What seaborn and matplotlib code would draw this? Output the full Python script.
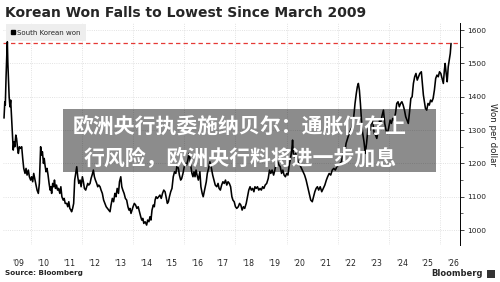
import pandas as pd
import numpy as np
import seaborn as sns
import matplotlib.pyplot as plt
from matplotlib.lines import Line2D
from matplotlib.patches import Rectangle

# USD/KRW (decimal year, won per dollar)
years = [
    2008.96, 2008.99, 2009.01, 2009.04, 2009.07, 2009.09, 2009.11, 2009.14, 2009.16, 2009.19,
    2009.22, 2009.26, 2009.29, 2009.32, 2009.35, 2009.38, 2009.42, 2009.45, 2009.49, 2009.52,
    2009.56, 2009.60, 2009.65, 2009.69, 2009.73, 2009.78, 2009.82, 2009.86, 2009.91, 2009.95,
    2010.00, 2010.04, 2010.08, 2010.12, 2010.17, 2010.21, 2010.25, 2010.30, 2010.34, 2010.37,
    2010.39, 2010.42, 2010.46, 2010.50, 2010.53, 2010.56, 2010.60, 2010.64, 2010.68, 2010.72,
    2010.76, 2010.79, 2010.82, 2010.86, 2010.90, 2010.93, 2010.97, 2011.01, 2011.05, 2011.09,
    2011.14, 2011.18, 2011.22, 2011.27, 2011.31, 2011.35, 2011.41, 2011.45, 2011.49, 2011.53,
    2011.57, 2011.60, 2011.64, 2011.68, 2011.72, 2011.76, 2011.80, 2011.84, 2011.88, 2011.93,
    2011.97, 2012.02, 2012.06, 2012.10, 2012.15, 2012.19, 2012.23, 2012.27, 2012.32, 2012.36,
    2012.40, 2012.45, 2012.49, 2012.53, 2012.58, 2012.62, 2012.66, 2012.71, 2012.75, 2012.80,
    2012.85, 2012.90, 2012.95, 2013.00, 2013.05, 2013.10, 2013.14, 2013.19, 2013.24, 2013.29,
    2013.33, 2013.38, 2013.43, 2013.47, 2013.52, 2013.56, 2013.60, 2013.65, 2013.70, 2013.75,
    2013.80, 2013.84, 2013.88, 2013.92, 2013.96, 2014.00, 2014.05, 2014.10, 2014.15, 2014.20,
    2014.25, 2014.30, 2014.34, 2014.38, 2014.42, 2014.47, 2014.53, 2014.57, 2014.62, 2014.66,
    2014.70, 2014.74, 2014.79, 2014.83, 2014.86, 2014.90, 2014.95, 2015.00, 2015.05, 2015.10,
    2015.15, 2015.20, 2015.25, 2015.30, 2015.34, 2015.38, 2015.42, 2015.47, 2015.52, 2015.57,
    2015.62, 2015.67, 2015.72, 2015.77, 2015.81, 2015.86, 2015.90, 2015.95, 2016.00, 2016.05,
    2016.09, 2016.14, 2016.18, 2016.22, 2016.26, 2016.30, 2016.34, 2016.38, 2016.42, 2016.46,
    2016.50, 2016.55, 2016.61, 2016.65, 2016.70, 2016.74, 2016.78, 2016.82, 2016.86, 2016.90,
    2016.95, 2017.00, 2017.05, 2017.11, 2017.16, 2017.21, 2017.27, 2017.32, 2017.36, 2017.41,
    2017.46, 2017.51, 2017.56, 2017.61, 2017.66, 2017.71, 2017.76, 2017.81, 2017.86, 2017.90,
    2017.95, 2018.00, 2018.05, 2018.11, 2018.16, 2018.21, 2018.26, 2018.31, 2018.36, 2018.42,
    2018.47, 2018.52, 2018.57, 2018.62, 2018.67, 2018.72, 2018.76, 2018.81, 2018.86, 2018.91,
    2018.96, 2019.01, 2019.06, 2019.11, 2019.16, 2019.22, 2019.28, 2019.33, 2019.38, 2019.43,
    2019.49, 2019.54, 2019.60, 2019.65, 2019.70, 2019.75, 2019.80, 2019.85, 2019.90, 2019.95,
    2020.00, 2020.05, 2020.10, 2020.15, 2020.20, 2020.23, 2020.26, 2020.30, 2020.35, 2020.40,
    2020.46, 2020.52, 2020.58, 2020.64, 2020.70, 2020.76, 2020.82, 2020.88, 2020.94, 2021.00,
    2021.05, 2021.10, 2021.15, 2021.20, 2021.25, 2021.31, 2021.37, 2021.43, 2021.49, 2021.55,
    2021.60, 2021.66, 2021.72, 2021.78, 2021.84, 2021.90, 2021.96, 2022.02, 2022.08, 2022.14,
    2022.20, 2022.26, 2022.32, 2022.38, 2022.44, 2022.50, 2022.56, 2022.62, 2022.67, 2022.72,
    2022.76, 2022.80, 2022.84, 2022.88, 2022.93, 2022.97, 2023.02, 2023.07, 2023.12, 2023.17,
    2023.22, 2023.27, 2023.32, 2023.37, 2023.42, 2023.47, 2023.52, 2023.58, 2023.63, 2023.68,
    2023.73, 2023.78, 2023.83, 2023.88, 2023.93, 2023.98, 2024.04, 2024.09, 2024.14, 2024.19,
    2024.25, 2024.30, 2024.35, 2024.40, 2024.45, 2024.50, 2024.55, 2024.60, 2024.65, 2024.70,
    2024.75, 2024.80, 2024.85, 2024.90, 2024.95, 2025.00, 2025.05, 2025.10, 2025.15, 2025.20,
    2025.26, 2025.30, 2025.34, 2025.38, 2025.42, 2025.47, 2025.52, 2025.57, 2025.62, 2025.67,
    2025.72, 2025.77, 2025.82, 2025.87, 2025.92, 2025.97, 2026.02, 2026.07, 2026.12, 2026.16,
    2026.19, 2026.23, 2026.27, 2026.31, 2026.35, 2026.39, 2026.42,
]
won = [
    1336, 1385, 1375, 1460, 1530, 1565, 1500, 1440, 1400, 1370,
    1390, 1330, 1280, 1240, 1265, 1250, 1285, 1275, 1245, 1230,
    1250, 1245, 1250, 1215, 1185, 1170, 1185, 1165, 1180, 1160,
    1150, 1160, 1145, 1170, 1150, 1135, 1120, 1110, 1140, 1210,
    1250, 1225, 1235, 1200, 1215, 1195, 1175, 1185, 1165, 1140,
    1120, 1130, 1110, 1140, 1130, 1150, 1125, 1135, 1120, 1125,
    1110, 1130, 1100, 1090, 1095, 1080, 1080, 1070, 1085, 1065,
    1060, 1055, 1065, 1080, 1150, 1170, 1190, 1160, 1140, 1150,
    1130, 1160, 1145, 1125, 1120, 1130, 1140, 1135, 1140, 1155,
    1165, 1180, 1160, 1150, 1140, 1130, 1135, 1130, 1120, 1110,
    1090, 1080, 1070, 1065, 1060, 1055, 1075, 1095, 1085, 1110,
    1100, 1125, 1110, 1145, 1160, 1130, 1120, 1110, 1095, 1090,
    1070, 1060, 1065, 1050, 1060, 1070, 1080, 1075, 1065, 1070,
    1055, 1040, 1030, 1035, 1020, 1025, 1015, 1030, 1025, 1040,
    1030, 1060, 1075, 1070, 1090, 1100, 1095, 1100, 1105, 1095,
    1110, 1120, 1115, 1095, 1080, 1085, 1100, 1115, 1125, 1160,
    1175, 1170, 1195, 1185, 1165, 1150, 1155, 1170, 1190, 1200,
    1195, 1210, 1230, 1215, 1190, 1170, 1160, 1175, 1160, 1180,
    1165, 1150, 1175, 1130, 1110, 1100, 1115, 1130, 1145, 1170,
    1185, 1205, 1190, 1165, 1150, 1135, 1130, 1140, 1125, 1120,
    1135, 1145, 1140, 1150, 1135, 1145, 1140, 1130, 1100, 1090,
    1085, 1070, 1065, 1070, 1080, 1075, 1060, 1070, 1065, 1080,
    1100, 1120, 1130, 1120, 1125, 1115, 1130, 1125, 1130, 1120,
    1125, 1120, 1130, 1125, 1135, 1140, 1155, 1180, 1170, 1180,
    1165, 1180, 1210, 1205, 1195, 1190, 1170, 1180, 1165, 1160,
    1170, 1165, 1195, 1215, 1240, 1270, 1230, 1220, 1230, 1220,
    1200, 1195, 1185, 1175, 1165, 1150, 1130, 1110, 1090, 1085,
    1100, 1115, 1125, 1130, 1120, 1130, 1115, 1125, 1135, 1150,
    1160, 1170, 1165, 1180, 1185, 1180, 1190, 1195, 1200, 1205,
    1230, 1225, 1260, 1275, 1290, 1300, 1310, 1340, 1380, 1410,
    1430, 1440, 1420, 1380, 1320, 1290, 1265, 1230, 1260, 1300,
    1320, 1300, 1335, 1320, 1290, 1285, 1275, 1300, 1330, 1325,
    1345, 1360, 1320, 1300, 1290, 1305, 1330, 1320, 1335, 1330,
    1350, 1380, 1385, 1370, 1380, 1385, 1375, 1360, 1340, 1330,
    1320, 1355, 1395, 1400, 1440, 1460, 1470, 1450, 1460, 1470,
    1475, 1440, 1405, 1385, 1365, 1360, 1380, 1375, 1390, 1385,
    1395, 1420, 1455, 1465, 1460, 1475, 1470, 1455, 1440, 1480,
    1500, 1470, 1445, 1490, 1510, 1530, 1560,
]
high_2009 = 1560

year_ticks = list(range(2009, 2027))
year_labels = ["'%02d" % (y % 100) for y in year_ticks]
won_ticks = [1000, 1100, 1200, 1300, 1400, 1500, 1600]

title = 'Korean Won Falls to Lowest Since March 2009'
overlay_lines = ['欧洲央行执委施纳贝尔：通胀仍存上', '行风险，欧洲央行料将进一步加息']

df = pd.DataFrame({'year': years, 'won': won})

sns.set_style('white')
plt.rcParams['font.family'] = ['DejaVu Sans', 'Noto Sans CJK SC']

fig = plt.figure(figsize=(5, 2.82), dpi=100)
ax = fig.add_axes([0.006, 0.131, 0.914, 0.787])

sns.lineplot(data=df, x='year', y='won', color='black', linewidth=1.15, ax=ax)
ax.axhline(high_2009, color='#e53935', linewidth=0.9, linestyle=(0, (3.5, 2.5)), zorder=1)

ax.set_xlim(2008.92, 2026.77)
ax.set_ylim(955, 1621)

# gridlines every two years, labels in the middle of each year
ax.set_xticks(list(range(2010, 2027, 2)))
ax.set_xticklabels([])
ax.set_xticks([y + 0.5 for y in year_ticks], minor=True)
ax.set_xticklabels(year_labels, minor=True)
ax.tick_params(axis='x', which='both', length=0, pad=10, labelsize=5.6, labelcolor='#222222')

ax.yaxis.tick_right()
ax.yaxis.set_label_position('right')
ax.set_yticks(won_ticks)
ax.set_yticks(list(range(1050, 1600, 100)), minor=True)
ax.tick_params(axis='y', which='major', length=3, width=0.6, pad=2, labelsize=5.4,
               labelcolor='#222222', direction='out')
ax.tick_params(axis='y', which='minor', length=2, width=0.5, direction='out')
ax.set_ylabel('Won per dollar', fontsize=6.2, rotation=270, labelpad=8, color='#222222')
ax.set_xlabel('')

ax.grid(True, which='major', color='#d9d9d9', linestyle=':', linewidth=0.6)
for s in ['left', 'top', 'bottom']:
    ax.spines[s].set_visible(False)
ax.spines['right'].set_color('black')
ax.spines['right'].set_linewidth(0.7)

handle = Line2D([], [], marker='s', color='black', linestyle='none', markersize=3)
leg = ax.legend([handle], ['South Korean won'], loc='upper left', fontsize=5,
                frameon=True, facecolor='#eeeeee', edgecolor='none', framealpha=1,
                handlelength=0.6, handletextpad=0.35, borderpad=0.75,
                bbox_to_anchor=(-0.002, 1.01), fancybox=False)

fig.text(0.01, 1 - 17 / 282, title, fontsize=10, fontweight='bold', va='baseline', ha='left')
fig.text(0.01, 1 - 273.5 / 282, 'Source: Bloomberg', fontsize=5.2, fontweight='bold', va='center')
fig.text(0.966, 1 - 273.5 / 282, 'Bloomberg', fontsize=6, fontweight='bold', va='center', ha='right')
fig.add_artist(Rectangle((0.974, 1 - 277.5 / 282), 0.016, 8 / 282, transform=fig.transFigure,
                         facecolor='#333333', edgecolor='none'))

# translucent news banner over the chart
fig.add_artist(Rectangle((0.126, 0.390), 0.746, 0.223, transform=fig.transFigure,
                         facecolor='black', alpha=0.45, edgecolor='none', zorder=5))
for i, line in enumerate(overlay_lines):
    fig.text(0.48, 1 - (126 + 31.5 * i) / 282, line, fontsize=15, fontweight='bold',
             color='white', ha='center', va='center', zorder=6,
             family=['Noto Sans CJK SC', 'DejaVu Sans'])

fig.savefig('out.png', dpi=100)
